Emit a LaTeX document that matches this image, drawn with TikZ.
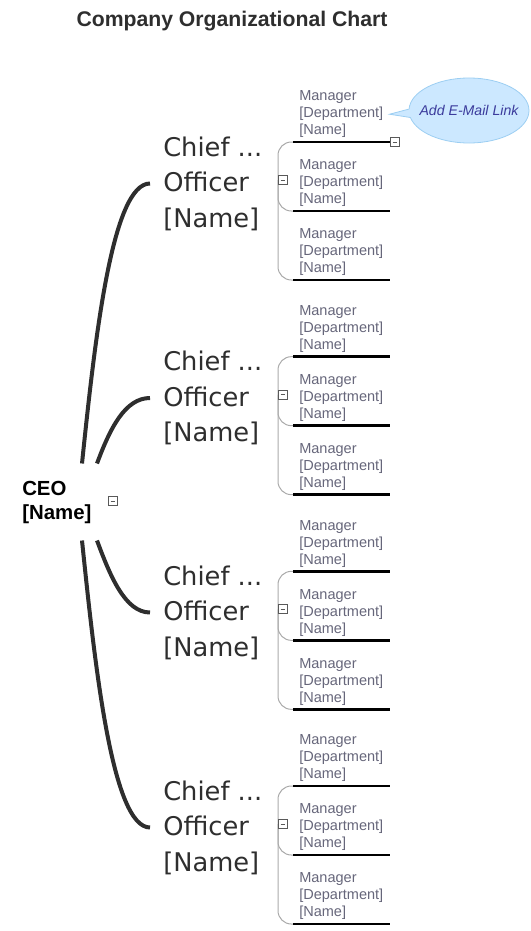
\documentclass[tikz,border=0pt]{standalone}
\usepackage{fontspec}
\setmainfont{Liberation Sans}
\newfontfamily\chieffont{DejaVu Sans}
\usetikzlibrary{shapes.callouts}

\definecolor{darktext}{HTML}{2E2E2E}
\definecolor{mgrgray}{HTML}{66667A}
\definecolor{spinegray}{HTML}{AAAAAA}
\definecolor{bubblefill}{HTML}{CCE8FF}
\definecolor{bubbledraw}{HTML}{9CCEF2}
\definecolor{bubbletext}{HTML}{3B3B9C}

\newcommand{\mgrlines}{Manager\\{}[Department]\\{}[Name]}

\begin{document}
\begin{tikzpicture}[
        x=0.75pt, y=-0.75pt,
        title/.style={font=\bfseries\fontsize{15.9}{18}\selectfont, text=darktext},
        ceo/.style={font=\bfseries\fontsize{15.3}{18}\selectfont, align=left,
          inner xsep=0pt, inner ysep=12.75pt, anchor=west},
        chief/.style={font=\chieffont\fontsize{19.3}{26.6}\selectfont, text=darktext,
          align=left, inner xsep=9.75pt, inner ysep=0pt, anchor=west},
        mgr/.style={font=\fontsize{10.9}{12.75}\selectfont, text=mgrgray,
          align=left, text width=63pt, inner xsep=4.5pt, inner ysep=3pt,
          anchor=south west},
        uline/.style={draw=black, line width=2.2pt},
        spine/.style={draw=spinegray, line width=0.75pt, rounded corners=10pt},
        trunk/.style={draw=darktext, line width=3pt},
        toggle/.style={draw=black!65, fill=white, line width=0.6pt, minimum size=6.75pt,
          inner sep=0pt, path picture={\draw[line width=0.6pt]
            ([xshift=1.6pt]path picture bounding box.west) --
            ([xshift=-1.6pt]path picture bounding box.east);}},
        bubble/.style={ellipse callout, draw=bubbledraw, fill=bubblefill, line width=0.6pt,
          minimum width=90pt, minimum height=48.75pt, inner sep=0pt,
          font=\itshape\fontsize{10.6}{12}\selectfont, text=bubbletext}
      ]
      \useasboundingbox (0,0) rectangle (531,931);

      % Title
      \node [title] (head) at (232,21) {Company Organizational Chart};

      % CEO
      \node [ceo] (ceo) at (22,502) {CEO\\{}[Name]};
      \node [toggle] (t0) at (113,501) {};

      % Chiefs
      \node [chief] (c1) at (150,183.5) {Chief ...\\Officer\\{}[Name]};
      \node [chief] (c2) at (150,398) {Chief ...\\Officer\\{}[Name]};
      \node [chief] (c3) at (150,612.5) {Chief ...\\Officer\\{}[Name]};
      \node [chief] (c4) at (150,827.5) {Chief ...\\Officer\\{}[Name]};

      % CEO to chiefs
      \draw [trunk] ([xshift=45pt]ceo.north west)
      .. controls +(13,-125) and +(-38,0) .. (c1.west);
      \draw [trunk] ([xshift=56.25pt]ceo.north west)
      .. controls +(13,-35) and +(-25,0) .. (c2.west);
      \draw [trunk] ([xshift=56.25pt]ceo.south west)
      .. controls +(13,35) and +(-25,0) .. (c3.west);
      \draw [trunk] ([xshift=45pt]ceo.south west)
      .. controls +(13,125) and +(-38,0) .. (c4.west);

      % Managers, group 1
      \node [mgr] (m11) at (293,142) {\mgrlines};
      \node [mgr] (m12) at (293,211) {\mgrlines};
      \node [mgr] (m13) at (293,280) {\mgrlines};
      % Managers, group 2
      \node [mgr] (m21) at (293,356.67) {\mgrlines};
      \node [mgr] (m22) at (293,425.67) {\mgrlines};
      \node [mgr] (m23) at (293,494.67) {\mgrlines};
      % Managers, group 3
      \node [mgr] (m31) at (293,571.33) {\mgrlines};
      \node [mgr] (m32) at (293,640.33) {\mgrlines};
      \node [mgr] (m33) at (293,709.33) {\mgrlines};
      % Managers, group 4
      \node [mgr] (m41) at (293,786) {\mgrlines};
      \node [mgr] (m42) at (293,855) {\mgrlines};
      \node [mgr] (m43) at (293,924) {\mgrlines};

      % Spines of the groups
      \coordinate (s1) at (278,180);
      \coordinate (s2) at (278,394.67);
      \coordinate (s3) at (278,609.33);
      \coordinate (s4) at (278,824);

      \draw [spine] (s1) |- (m11.south west);
      \draw [spine] (s1) |- (m12.south west);
      \draw [spine] (s1) |- (m13.south west);
      \draw [spine] (s2) |- (m21.south west);
      \draw [spine] (s2) |- (m22.south west);
      \draw [spine] (s2) |- (m23.south west);
      \draw [spine] (s3) |- (m31.south west);
      \draw [spine] (s3) |- (m32.south west);
      \draw [spine] (s3) |- (m33.south west);
      \draw [spine] (s4) |- (m41.south west);
      \draw [spine] (s4) |- (m42.south west);
      \draw [spine] (s4) |- (m43.south west);

      % Underlines
      \draw [uline] (m11.south west) -- (m11.south east);
      \draw [uline] (m12.south west) -- (m12.south east);
      \draw [uline] (m13.south west) -- (m13.south east);
      \draw [uline] (m21.south west) -- (m21.south east);
      \draw [uline] (m22.south west) -- (m22.south east);
      \draw [uline] (m23.south west) -- (m23.south east);
      \draw [uline] (m31.south west) -- (m31.south east);
      \draw [uline] (m32.south west) -- (m32.south east);
      \draw [uline] (m33.south west) -- (m33.south east);
      \draw [uline] (m41.south west) -- (m41.south east);
      \draw [uline] (m42.south west) -- (m42.south east);
      \draw [uline] (m43.south west) -- (m43.south east);

      % Collapse boxes
      \node [toggle] (t1) at (283,180) {};
      \node [toggle] (t2) at (283,394.67) {};
      \node [toggle] (t3) at (283,609.33) {};
      \node [toggle] (t4) at (283,824) {};
      \node [toggle] (t11) at (395,142) {};

      % Callout
      \node [bubble, callout absolute pointer={(m11.east)}] (mail) at (469,110.5)
      {\makebox[40pt]{Add E-Mail Link}};

    \end{tikzpicture}
\end{document}
